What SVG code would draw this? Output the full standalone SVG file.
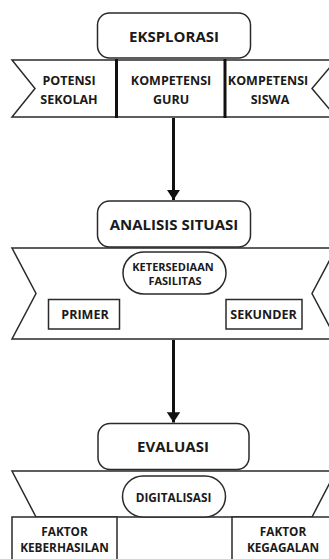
<svg xmlns="http://www.w3.org/2000/svg" width="329" height="559" viewBox="0 0 329 559">
<defs>
<style>
.sh{fill:#fff;stroke:#2a2a2a;stroke-width:1.5;stroke-linejoin:miter}
.thick{stroke:#111;stroke-width:3;fill:none}
text{font-family:"Open Sans","Liberation Sans",sans-serif;font-weight:700;fill:#1a1a1a;text-anchor:middle}
.t1{font-size:15px}
.t2{font-size:12.5px}
.t3{font-size:11px}
.t4{font-size:12.5px}
.t5{font-size:11.8px}
</style>
<marker id="ah" viewBox="0 0 10 10" refX="10" refY="5" markerWidth="3.4" markerHeight="4.4" orient="auto" markerUnits="strokeWidth" preserveAspectRatio="none">
<path d="M0,0 L10,5 L0,10 Z" fill="#111"/>
</marker>
</defs>
<rect width="329" height="559" fill="#fff"/>

<g id="banner1">
<path class="sh" d="M12,60 L336,60 L312,88.5 L336,117 L12,117 L35,88.5 Z"/>
<line class="thick" x1="116.5" y1="59" x2="116.5" y2="118"/>
<line class="thick" x1="225" y1="59" x2="225" y2="118"/>
</g>
<g id="potensi-sekolah">
<text class="t2" x="69" y="85">POTENSI</text>
<text class="t2" x="69" y="104">SEKOLAH</text>
</g>
<g id="kompetensi-guru">
<text class="t2" x="171" y="85">KOMPETENSI</text>
<text class="t2" x="171" y="104">GURU</text>
</g>
<g id="kompetensi-siswa">
<text class="t2" x="268" y="85">KOMPETENSI</text>
<text class="t2" x="270" y="104">SISWA</text>
</g>
<g id="eksplorasi">
<rect class="sh" x="97.5" y="13" width="153" height="45" rx="12"/>
<text class="t1" x="174" y="42">EKSPLORASI</text>
</g>

<g id="banner2">
<path class="sh" d="M12,248 L336,248 L312,293.5 L336,339 L12,339 L36,293.5 Z"/>
</g>
<g id="analisis-situasi">
<rect class="sh" x="97.5" y="201" width="153" height="46" rx="12"/>
<text class="t1" x="174" y="230">ANALISIS SITUASI</text>
</g>
<g id="ketersediaan-fasilitas">
<rect class="sh" x="123" y="252" width="103" height="42" rx="21"/>
<text class="t3" x="173" y="271">KETERSEDIAAN</text>
<text class="t3" x="175" y="284.5">FASILITAS</text>
</g>
<g id="primer">
<rect class="sh" x="48.5" y="299.5" width="71" height="29.5"/>
<text class="t4" x="85" y="319">PRIMER</text>
</g>
<g id="sekunder">
<rect class="sh" x="226" y="299.5" width="76" height="29.5"/>
<text class="t4" x="263.5" y="319">SEKUNDER</text>
</g>

<g id="banner3">
<path class="sh" d="M12,471 L336,471 L312,517 L36,517 Z"/>
</g>
<g id="evaluasi">
<rect class="sh" x="98" y="423.5" width="151" height="46" rx="12"/>
<text class="t1" x="173" y="452">EVALUASI</text>
</g>
<g id="digitalisasi">
<rect class="sh" x="122.5" y="476" width="103" height="41" rx="20.5"/>
<text class="t5" x="173.5" y="502">DIGITALISASI</text>
</g>
<g id="faktor-keberhasilan">
<rect class="sh" x="12" y="517" width="105" height="50"/>
<text class="t5" x="64.5" y="536">FAKTOR</text>
<text class="t5" x="64.5" y="552">KEBERHASILAN</text>
</g>
<g id="faktor-kegagalan">
<rect class="sh" x="232" y="517" width="105" height="50"/>
<text class="t5" x="283" y="536">FAKTOR</text>
<text class="t5" x="283" y="552">KEGAGALAN</text>
</g>

<g id="connectors">
<line class="thick" x1="173.5" y1="118" x2="173.5" y2="200" marker-end="url(#ah)"/>
<line class="thick" x1="173.5" y1="340" x2="173.5" y2="422.5" marker-end="url(#ah)"/>
</g>
</svg>
